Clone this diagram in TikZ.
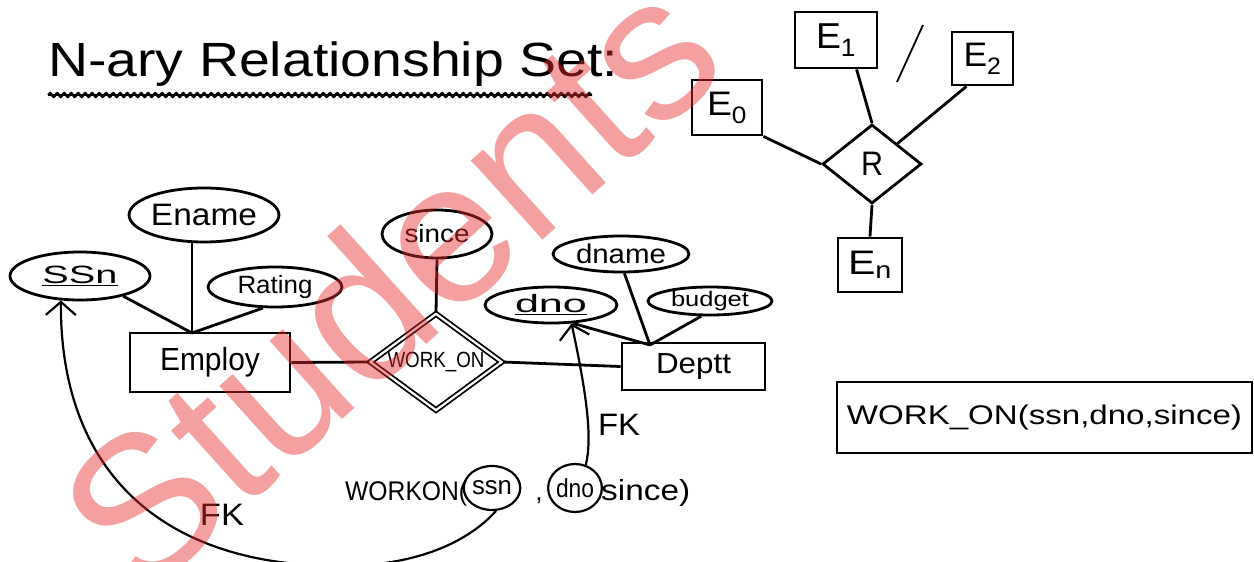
\documentclass[tikz,border=0pt]{standalone}
\usepackage{fontspec}
\setmainfont{Liberation Sans}
\usetikzlibrary{shapes.geometric,arrows.meta,decorations.pathmorphing,calc}
\newcommand\hw[3]{\resizebox{#1pt}{\height}{\fontsize{#2}{#2}\selectfont #3}}
\definecolor{wmred}{RGB}{232,45,45}
\begin{document}
\begin{tikzpicture}[x=1pt,y=-1pt,
  ink/.style={line width=2.8pt, black},
  ent/.style={draw, ink, rectangle, inner sep=0pt},
  attr/.style={draw, ink, ellipse, inner sep=0pt},
  rel/.style={draw, ink, diamond, inner sep=0pt},
  circ/.style={draw, line width=2.2pt, ellipse, inner sep=0pt},
  conn/.style={ink},
  fk/.style={line width=2.2pt, black, -{Straight Barb[length=13pt,width=30pt,line width=2.2pt]}},
  lbl/.style={inner sep=0pt}
]
\useasboundingbox (0,0) rectangle (1254,562);

% ---------- title ----------
\node[lbl, anchor=base west] (title) at (48,76) {\hw{570}{48}{N-ary Relationship Set:}};
\coordinate (uA) at (48,95);
\coordinate (uB) at (592,95);
\draw[ink, line width=2.2pt, decorate, decoration={snake, amplitude=2pt, segment length=7pt}] (uA) -- (uB);
\draw[ink, line width=1.8pt] (uA) -- (uB);

% ---------- n-ary example ----------
\node[rel, minimum width=99pt, minimum height=79pt] (r) at (872,164) {\hw{22}{34}{R}};
\node[ent, minimum width=82pt, minimum height=56pt] (e1) at (836,40) {\hw{40}{36}{E\textsubscript{1}}};
\node[ent, minimum width=61pt, minimum height=53pt] (e2) at (982.5,58.5) {\hw{38}{34}{E\textsubscript{2}}};
\node[ent, minimum width=70pt, minimum height=55pt] (e0) at (727,107.5) {\hw{40}{34}{E\textsubscript{0}}};
\node[ent, minimum width=64pt, minimum height=54pt] (en) at (870,265) {\hw{44}{34}{E\textsubscript{n}}};
\draw[conn] (e0.south east) -- (r.west);
\draw[conn] (e1.-55) -- (r.north);
\draw[conn] (e2.-120) -- (r.north east);
\draw[conn] (r.south) -- (en.north);
\coordinate (sl1) at (923,25);
\coordinate (sl2) at (897,82);
\draw[line width=1.8pt] (sl1) -- (sl2);

% ---------- ER diagram ----------
\node[ent, minimum width=160pt, minimum height=59pt] (emp) at (210,362.5) {\hw{100}{32}{Employ}};
\node[attr, minimum width=148pt, minimum height=54pt] (ename) at (204,215) {\hw{106}{31}{Ename}};
\node[attr, minimum width=140pt, minimum height=48pt] (ssn) at (80,276) {\hw{75}{25}{\underline{SSn}}};
\node[attr, minimum width=134pt, minimum height=40pt] (rating) at (275,287) {\hw{75}{25}{Rating}};
\node[rel, double, line width=1.8pt, double distance=2.2pt, aspect=1.36, minimum width=132pt, minimum height=97pt] (wo) at (436,362) {\hw{97}{22}{WORK\_ON}};
\node[attr, minimum width=110pt, minimum height=48pt] (since) at (437,234) {\hw{65}{25}{since}};
\node[ent, minimum width=143pt, minimum height=47pt] (dept) at (693.5,366.5) {\hw{75}{29}{Deptt}};
\node[attr, minimum width=136pt, minimum height=36pt] (dname) at (621,254) {\hw{90}{27}{dname}};
\node[attr, minimum width=132pt, minimum height=36pt] (dno) at (551,305) {\hw{72}{25}{\underline{dno}}};
\node[attr, minimum width=124pt, minimum height=28pt] (budget) at (710,301) {\hw{78}{21}{budget}};

\coordinate (ej) at (192,333);
\coordinate (dj) at (650,345);
\draw[conn] (ssn.-25) -- (ej);
\draw[conn] (ename.south -| ej) -- (ej);
\draw[conn] (rating.240) -- (ej);
\draw[conn] (emp.east) -- (wo.west);
\draw[conn] (wo.east) -- (dept.west);
\draw[conn] (since.south) -- (wo.north);
\draw[conn] (dname.-80) -- (dj);
\draw[conn] (dno.-40) -- (dj);
\draw[conn] (budget.240) -- (dj);

% ---------- relation schema with FKs ----------
\node[lbl, anchor=base west] (wk1) at (345,500) {\hw{122}{27}{WORKON(}};
\node[circ, minimum width=48pt, minimum height=44pt] (cssn) at (492,488) {\hw{40}{26}{ssn}};
\node[lbl, anchor=base] (comma) at (539,500) {\fontsize{26}{26}\selectfont ,};
\node[circ, minimum width=50pt, minimum height=48pt] (cdno) at (575,488) {\hw{38}{26}{dno}};
\node[lbl, anchor=base west] (wk2) at (601,500) {\hw{89}{29}{since)}};

\draw[fk] (cdno.65) .. controls (592,440) and (588,400) .. (dno.-42);
\node[lbl] (fk1) at (619,425) {\hw{42}{31}{FK}};

\coordinate (bot) at (340,566);
\draw[fk] (cssn.-80) .. controls (470,540) and (420,566) .. (bot)
          .. controls (160,566) and (60,470) .. (ssn.232);
\node[lbl] (fk2) at (222,515) {\hw{44}{31}{FK}};

% ---------- relational schema box ----------
\node[ent, minimum width=415pt, minimum height=71pt] (schema) at (1044.5,417.5) {\hw{395}{27}{WORK\_ON(ssn,dno,since)}};

% ---------- watermark ----------
\node[inner sep=0pt, rotate=42, text=wmred, text opacity=0.45, font=\fontsize{202}{202}\selectfont] (wm) at (388,282) {Students};
\end{tikzpicture}
\end{document}
